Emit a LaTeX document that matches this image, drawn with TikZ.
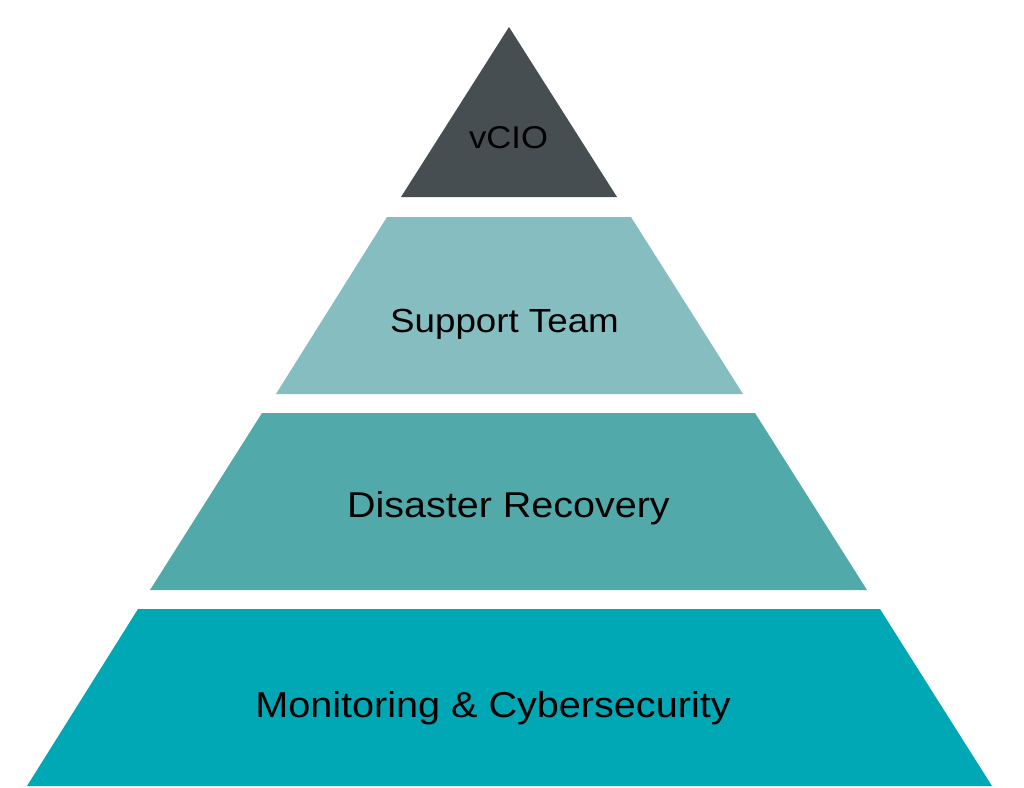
\documentclass[tikz,border=0pt]{standalone}
\usepackage{fontspec}
\newfontfamily\labfont[FakeStretch=1.1]{Liberation Sans}
\definecolor{topc}{HTML}{474E52}
\definecolor{suppc}{HTML}{86BDC0}
\definecolor{disc}{HTML}{52A9AA}
\definecolor{monc}{HTML}{00A8B5}
\tikzset{
  tier/.style={draw=none},
  lab/.style={anchor=base, inner sep=0pt, text=black, font=\labfont}
}
\begin{document}
\begin{tikzpicture}[x=1pt,y=-1pt]
\useasboundingbox (0,0) rectangle (1024,787);
\fill[white] (0,0) rectangle (1024,787);
% tiers
\fill[tier, topc] (509,27) -- (617,197) -- (401,197) -- cycle;
\fill[tier, suppc] (387,217) -- (631,217) -- (743,394) -- (276,394) -- cycle;
\fill[tier, disc] (262,413) -- (755,413) -- (867,590) -- (150,590) -- cycle;
\fill[tier, monc] (138,609) -- (880,609) -- (992,786) -- (27,786) -- cycle;
% labels
\node[lab, font=\labfont\fontsize{31.5}{34}\selectfont] (vcio) at (508.5,148) {vCIO};
\node[lab, font=\labfont\fontsize{33.4}{36}\selectfont] (supp) at (504.5,332) {Support Team};
\node[lab, font=\labfont\fontsize{35.9}{38}\selectfont] (dis) at (508.5,517) {Disaster Recovery};
\node[lab, font=\labfont\fontsize{36}{38}\selectfont] (mon) at (493,717) {Monitoring \& Cybersecurity};
\end{tikzpicture}
\end{document}
